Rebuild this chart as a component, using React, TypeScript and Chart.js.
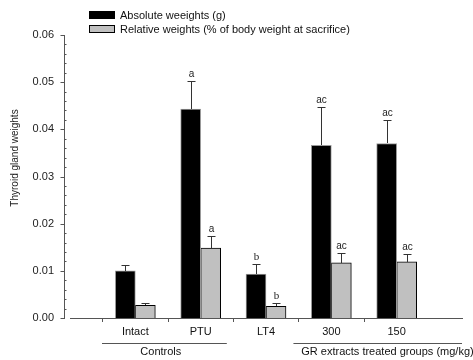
import React, { useEffect, useRef } from "react";
import { Chart, registerables } from "chart.js";

Chart.register(...registerables);

const categories = ["", "Intact", "PTU", "LT4", "300", "150", ""];
const absoluteWeights = [null, 0.01, 0.0443, 0.0093, 0.0366, 0.037, null];
const absoluteErrors = [null, 0.0013, 0.006, 0.0022, 0.0081, 0.005, null];
const relativeWeights = [null, 0.0027, 0.0148, 0.0025, 0.0117, 0.0119, null];
const relativeErrors = [null, 0.0004, 0.0026, 0.0007, 0.0021, 0.0017, null];
const absoluteLetters = ["", "", "a", "b", "ac", "ac", ""];
const relativeLetters = ["", "", "a", "b", "ac", "ac", ""];
const yTicks = [0, 0.01, 0.02, 0.03, 0.04, 0.05, 0.06];
const seriesNames = [
  "Absolute weeights (g)",
  "Relative weights (% of body weight at sacrifice)",
];
const groupLabels = ["Controls", "GR extracts treated groups (mg/kg)"];
const yTitle = "Thyroid gland weights";

const SANS = '"Liberation Sans", Arial, sans-serif';
const SERIF = '"Liberation Serif", "Times New Roman", serif';
const AXIS = "#555555";

const customPlugin = {
  id: "customDecor",
  afterDatasetsDraw(chart: any) {
    const ctx = chart.ctx;
    const ys = chart.scales.y;
    const sets = [
      { values: absoluteWeights, errors: absoluteErrors, letters: absoluteLetters, idx: 0 },
      { values: relativeWeights, errors: relativeErrors, letters: relativeLetters, idx: 1 },
    ];
    ctx.save();
    sets.forEach((s) => {
      const meta = chart.getDatasetMeta(s.idx);
      meta.data.forEach((bar: any, i: number) => {
        const v = s.values[i];
        const e = s.errors[i];
        if (v == null || e == null) return;
        const top = Math.round(ys.getPixelForValue(v));
        const cap = Math.round(ys.getPixelForValue(v + e)) + 0.5;
        const cx = Math.round(bar.x) + 0.5;
        ctx.strokeStyle = "#333333";
        ctx.lineWidth = 1;
        ctx.beginPath();
        ctx.moveTo(cx, top);
        ctx.lineTo(cx, cap);
        ctx.moveTo(cx - 4, cap);
        ctx.lineTo(cx + 4, cap);
        ctx.stroke();
        const letter = s.letters[i];
        if (letter) {
          ctx.fillStyle = "#222222";
          ctx.font = letter === "b" ? `11px ${SERIF}` : `10px ${SANS}`;
          ctx.textAlign = "center";
          ctx.textBaseline = "bottom";
          ctx.fillText(letter, cx, cap - 2);
        }
      });
    });
    ctx.restore();
  },
  afterDraw(chart: any) {
    const ctx = chart.ctx;
    const ys = chart.scales.y;
    const xs = chart.scales.x;
    const area = chart.chartArea;
    ctx.save();
    // y axis line and ticks
    const ax = Math.round(area.left) - 6 + 0.5;
    const yTop = Math.round(ys.getPixelForValue(yTicks[yTicks.length - 1]));
    const yBot = Math.round(ys.getPixelForValue(yTicks[0])) + 1;
    ctx.strokeStyle = AXIS;
    ctx.lineWidth = 1;
    ctx.beginPath();
    ctx.moveTo(ax, yTop);
    ctx.lineTo(ax, yBot);
    yTicks.forEach((t) => {
      const py = Math.round(ys.getPixelForValue(t)) + 0.5;
      ctx.moveTo(ax - 4, py);
      ctx.lineTo(ax, py);
    });
    for (let k = 1; k < 30; k++) {
      if (k % 5 === 0) continue;
      const py = Math.round(ys.getPixelForValue(k * 0.002)) + 0.5;
      ctx.moveTo(ax, py);
      ctx.lineTo(ax + 2, py);
    }
    ctx.stroke();

    // y title
    ctx.fillStyle = "#222222";
    ctx.font = `10px ${SANS}`;
    ctx.textAlign = "center";
    ctx.textBaseline = "middle";
    ctx.save();
    ctx.translate(15, 158);
    ctx.rotate(-Math.PI / 2);
    ctx.fillText(yTitle, 0, 0);
    ctx.restore();

    // legend
    const colors = ["#000000", "#c0c0c0"];
    const borders = ["#000000", "#000000"];
    seriesNames.forEach((name, i) => {
      const by = 11 + i * 14;
      ctx.fillStyle = colors[i];
      ctx.fillRect(89, by, 26, 8);
      ctx.strokeStyle = borders[i];
      ctx.lineWidth = 1;
      ctx.strokeRect(89.5, by + 0.5, 25, 7);
      ctx.fillStyle = "#111111";
      ctx.font = `11px ${SANS}`;
      ctx.textAlign = "left";
      ctx.textBaseline = "middle";
      ctx.fillText(name, 120, by + 4.5);
    });

    // group lines and labels
    const lineY = 343.5;
    ctx.strokeStyle = AXIS;
    ctx.beginPath();
    ctx.moveTo(xs.getPixelForValue(0.49), lineY);
    ctx.lineTo(xs.getPixelForValue(2.4), lineY);
    ctx.moveTo(xs.getPixelForValue(3.42), lineY);
    ctx.lineTo(xs.getPixelForValue(6), lineY);
    ctx.stroke();
    ctx.fillStyle = "#111111";
    ctx.font = `11px ${SANS}`;
    ctx.textBaseline = "middle";
    ctx.textAlign = "center";
    ctx.fillText(groupLabels[0], xs.getPixelForValue(1.39), 352);
    ctx.textAlign = "left";
    ctx.fillText(groupLabels[1], xs.getPixelForValue(3.54), 352);
    ctx.restore();
  },
};

export default function App() {
  const canvasRef = useRef<HTMLCanvasElement | null>(null);

  useEffect(() => {
    if (!canvasRef.current) return;
    const chart = new Chart(canvasRef.current, {
      type: "bar",
      data: {
        labels: categories,
        datasets: [
          {
            label: seriesNames[0],
            data: absoluteWeights as any,
            backgroundColor: "#000000",
            borderColor: "#999999",
            borderWidth: 1,
            barThickness: 20,
          },
          {
            label: seriesNames[1],
            data: relativeWeights as any,
            backgroundColor: "#c0c0c0",
            borderColor: "#000000",
            borderWidth: 1,
            barThickness: 20,
          },
        ],
      },
      options: {
        animation: false,
        responsive: false,
        devicePixelRatio: 1,
        layout: { padding: { top: 35, right: 11, left: 0, bottom: 0 } },
        plugins: {
          legend: { display: false },
          tooltip: { enabled: false },
          title: { display: false },
        },
        scales: {
          x: {
            type: "category",
            offset: false,
            grid: {
              display: true,
              drawOnChartArea: false,
              drawTicks: true,
              tickLength: 4,
              color: (c: any) =>
                c.index === 0 || c.index === categories.length - 1 ? "rgba(0,0,0,0)" : AXIS,
            },
            border: { display: true, color: AXIS },
            ticks: {
              autoSkip: false,
              maxRotation: 0,
              padding: 3,
              color: "#111111",
              font: { family: SANS, size: 11 },
            },
            afterFit: (s: any) => {
              s.height = 42;
            },
          },
          y: {
            min: 0,
            max: 0.06,
            grid: { display: false, drawTicks: false },
            border: { display: false },
            ticks: {
              stepSize: 0.01,
              padding: 16,
              color: "#222222",
              font: { family: SANS, size: 11 },
              callback: (v: any) => Number(v).toFixed(2),
            },
            afterFit: (s: any) => {
              s.width = 70;
            },
          },
        },
      },
      plugins: [customPlugin],
    });
    return () => chart.destroy();
  }, []);

  return (
    <div style={{ position: "absolute", left: 0, top: 0, width: 473, height: 360, background: "#ffffff" }}>
      <canvas ref={canvasRef} width={473} height={360} style={{ display: "block" }} />
    </div>
  );
}
